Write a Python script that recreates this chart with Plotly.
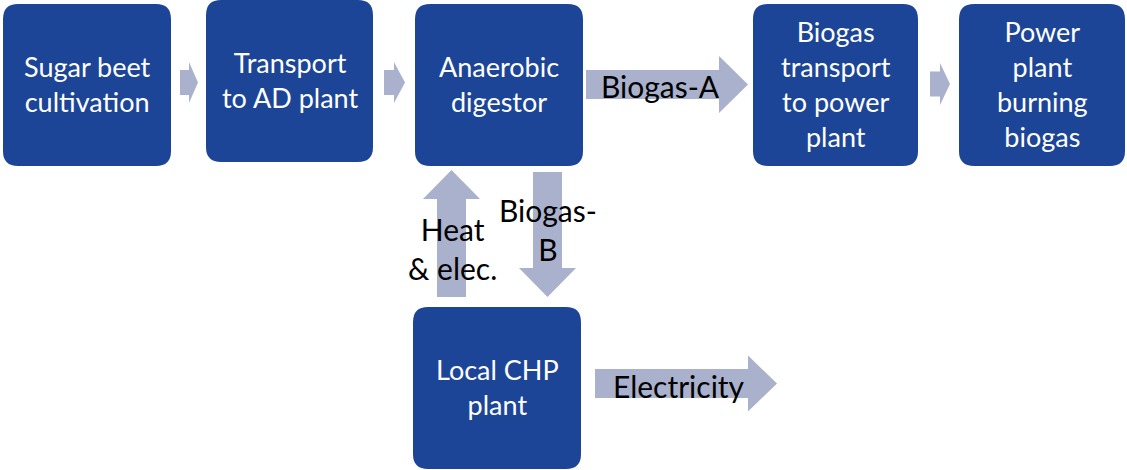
import plotly.graph_objects as go

# ---- content ----
node_labels = [
    "Sugar beet<br>cultivation",
    "Transport<br>to AD plant",
    "Anaerobic<br>digestor",
    "Biogas<br>transport<br>to power<br>plant",
    "Power<br>plant<br>burning<br>biogas",
    "Local CHP<br>plant",
]
flow_labels = ["Biogas-A", "Biogas-<br>B", "Heat<br>& elec.", "Electricity"]

# ---- layout geometry (pixels) ----
box_x0 = [3, 206, 415, 753, 959, 413]
box_x1 = [171, 373, 583, 918, 1125, 581]
box_y0 = [4, 0, 4, 4, 4, 307]
box_y1 = [166, 162, 166, 166, 166, 469]

BOX = "#1D4597"
ARROW = "#AAB1CC"

def rrect(x0, y0, x1, y1, r=15):
    return (f"M {x0+r},{y0} L {x1-r},{y0} Q {x1},{y0} {x1},{y0+r} "
            f"L {x1},{y1-r} Q {x1},{y1} {x1-r},{y1} L {x0+r},{y1} "
            f"Q {x0},{y1} {x0},{y1-r} L {x0},{y0+r} Q {x0},{y0} {x0+r},{y0} Z")

def harrow(x0, xh, x1, yc, sh, hh):
    return (f"M {x0},{yc-sh} L {xh},{yc-sh} L {xh},{yc-hh} L {x1},{yc} "
            f"L {xh},{yc+hh} L {xh},{yc+sh} L {x0},{yc+sh} Z")

def varrow(y0, yh, y1, xc, sh, hh):
    return (f"M {xc-sh},{y0} L {xc-sh},{yh} L {xc-hh},{yh} L {xc},{y1} "
            f"L {xc+hh},{yh} L {xc+sh},{yh} L {xc+sh},{y0} Z")

shapes = []
for x0, y0, x1, y1 in zip(box_x0, box_y0, box_x1, box_y1):
    shapes.append(dict(type="path", path=rrect(x0, y0, x1, y1), fillcolor=BOX,
                       line=dict(width=0), xref="x", yref="y", layer="below"))

arrow_paths = [
    harrow(180, 189, 198, 82.5, 12.5, 20.5),
    harrow(384, 394, 405, 82.5, 12.5, 20.5),
    harrow(930, 940, 950, 84, 12.5, 21),
    harrow(586, 719, 748, 84.5, 14.5, 28.5),
    harrow(595, 748, 777, 383.5, 14.5, 28),
    varrow(297, 199, 170, 451.5, 14.5, 28.5),
    varrow(172, 268, 297, 547.5, 14.5, 28.5),
]
for p in arrow_paths:
    shapes.append(dict(type="path", path=p, fillcolor=ARROW,
                       line=dict(width=0), xref="x", yref="y", layer="below"))

annotations = []
for lab, x0, y0, x1, y1 in zip(node_labels, box_x0, box_y0, box_x1, box_y1):
    annotations.append(dict(x=(x0 + x1) / 2, y=(y0 + y1) / 2 - 1, text=lab,
                            showarrow=False, xref="x", yref="y", align="center",
                            font=dict(family="Lato", size=27, color="white")))

flow_x = [660, 548, 452, 679]
flow_y = [86, 229, 248, 386]
for lab, x, y in zip(flow_labels, flow_x, flow_y):
    annotations.append(dict(x=x, y=y, text=lab, showarrow=False, xref="x", yref="y",
                            align="center",
                            font=dict(family="Lato", size=30, color="black")))

fig = go.Figure(go.Scatter(x=[], y=[]))
fig.update_layout(
    width=1127, height=470,
    margin=dict(l=0, r=0, t=0, b=0),
    paper_bgcolor="white", plot_bgcolor="white",
    xaxis=dict(range=[0, 1127], visible=False, fixedrange=True),
    yaxis=dict(range=[470, 0], visible=False, fixedrange=True),
    shapes=shapes, annotations=annotations, showlegend=False,
)
fig.write_html("out.html", config={"displayModeBar": False},
               post_script="document.body.style.margin='0';document.body.style.overflow='hidden';")
